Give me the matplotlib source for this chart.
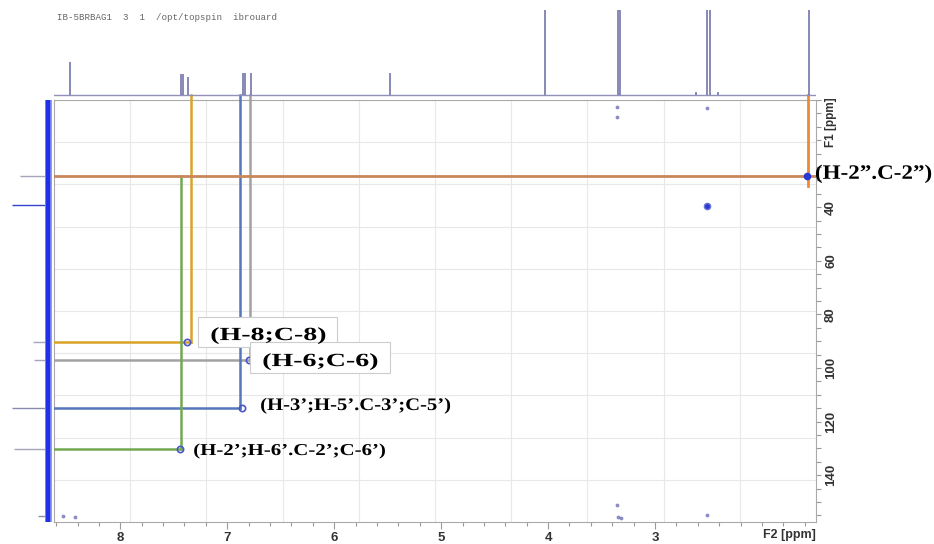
import matplotlib
matplotlib.use("Agg")
import matplotlib.pyplot as plt
from matplotlib.ticker import MultipleLocator, FixedLocator
from matplotlib.patches import Rectangle
from matplotlib.patheffects import AbstractPathEffect
from matplotlib.transforms import Affine2D

# 1H projection (F2) - peak positions (ppm) and heights
h_ppm = [8.47, 7.43, 7.41, 7.37, 6.85, 6.83, 6.78, 5.48, 4.03, 3.35, 3.33, 2.62, 2.51, 2.49, 2.41, 1.56]
h_int = [33, 21, 21, 18, 22, 22, 22, 22, 200, 200, 200, 3, 200, 200, 3, 200]

# 13C projection (F1) - peak positions (ppm) and heights
c_ppm = [28.4, 39.3, 90.4, 97.1, 115.0, 130.3, 155.3]
c_int = [28, 36, 15, 14, 36, 34, 10]
c_col = ['#a4a4bc', '#3344cc', '#a4a4bc', '#a4a4bc', '#8a8ab0', '#a4a4bc', '#8a8ab0']

# assigned cross peaks
labels = ["(H-8;C-8)", "(H-6;C-6)", "(H-3\u2019;H-5\u2019.C-3\u2019;C-5\u2019)",
          "(H-2\u2019;H-6\u2019.C-2\u2019;C-6\u2019)", "(H-2\u201d.C-2\u201d)"]
line_h = [7.34, 6.79, 6.88, 7.435, 1.57]
peak_h = [7.38, 6.80, 6.86, 7.44, 1.58]
peak_c = [90.4, 97.1, 115.0, 130.3, 28.4]
colors = ['#d8a428', '#a2a2a2', '#5577bb', '#72a850', '#ee8a33']

# other (unassigned) contour spots
art_h = [3.36, 3.36, 2.51, 8.54, 8.42, 3.36, 3.35, 3.32, 2.51]
art_c = [2.5, 6.3, 3.0, 155.3, 155.7, 151.0, 155.5, 156.0, 155.0]


class Stretch(AbstractPathEffect):
    # widen glyphs horizontally around the text origin
    def __init__(self, sx):
        super().__init__()
        self.sx = sx

    def draw_path(self, renderer, gc, tpath, affine, rgbFace=None):
        x0, y0 = affine.transform((0, 0))
        t = affine + Affine2D().translate(-x0, -y0).scale(self.sx, 1).translate(x0, y0)
        renderer.draw_path(gc, tpath, t, rgbFace)


W, H = 934, 544
fig = plt.figure(figsize=(W / 100, H / 100), dpi=100)
xlim = (8.62, 1.495)
ylim = (157.5, 0)

# main 2D area
ax = fig.add_axes([54 / W, 22 / H, 762 / W, 422 / H])
ax.set_xlim(*xlim)
ax.set_ylim(*ylim)
for s in ax.spines.values():
    s.set_color('#aaaaaa')
    s.set_linewidth(0.8)
for i in range(1, 10):
    ax.plot([i / 10, i / 10], [0, 1], transform=ax.transAxes, color='#e8e8e8', lw=0.8, zorder=0)
    ax.plot([0, 1], [i / 10, i / 10], transform=ax.transAxes, color='#e8e8e8', lw=0.8, zorder=0)

ax.xaxis.set_major_locator(FixedLocator([3, 4, 5, 6, 7, 8]))
ax.xaxis.set_minor_locator(MultipleLocator(0.2))
ax.yaxis.tick_right()
ax.yaxis.set_major_locator(FixedLocator([40, 60, 80, 100, 120, 140]))
ax.yaxis.set_minor_locator(MultipleLocator(5))
ax.tick_params(which='both', direction='out', color='#999999', width=0.8)
ax.tick_params(axis='x', which='major', length=5, pad=2, labelsize=9.5, labelcolor='#333333')
ax.tick_params(axis='x', which='minor', length=3)
ax.tick_params(axis='y', which='both', length=3.5, pad=3, labelsize=9.5, labelcolor='#333333')
for t in ax.get_xticklabels() + ax.get_yticklabels():
    t.set_fontweight('bold')
    t.set_family('Liberation Sans')
for t in ax.get_yticklabels():
    t.set_rotation(90)
    t.set_va('center')

fig.text(816 / W, 1 - 535 / H, "F2 [ppm]", ha='right', va='center', fontsize=9,
         fontweight='bold', family='Liberation Sans', color='#333333')
fig.text(831 / W, 1 - 122 / H, "F1 [ppm]", ha='center', va='center', fontsize=8.5,
         fontweight='bold', family='Liberation Sans', color='#333333', rotation=90)
fig.text(57 / W, 1 - 17.5 / H, "IB-5BRBAG1  3  1  /opt/topspin  ibrouard",
         ha='left', va='center', fontsize=6.6, family='Liberation Mono', color='#666666')

# top 1H trace
axt = fig.add_axes([54 / W, 444 / H, 762 / W, 90 / H])
axt.set_xlim(*xlim)
axt.set_ylim(-5, 85)
axt.axis('off')
axt.axhline(0, color='#9090b8', lw=1.0)
axt.vlines(h_ppm, 0, h_int, color='#7474aa', lw=1.2)

# left 13C trace
axl = fig.add_axes([0, 22 / H, 54 / W, 422 / H])
axl.set_ylim(*ylim)
axl.set_xlim(48, -6)
axl.axis('off')
axl.hlines(c_ppm, 0, c_int, colors=c_col, lw=1.0)
axl.axvline(0, color='#8d96f0', lw=5.0)
axl.axvline(0, color='#1f30e6', lw=3.2)

# crosshair lines
top = -1.9
for i in range(4):
    ax.plot([xlim[0], line_h[i]], [peak_c[i]] * 2, color=colors[i], lw=1.8, zorder=3)
for i in [0, 1, 2]:
    ax.plot([line_h[i]] * 2, [top, peak_c[i]], color=colors[i], lw=1.8, zorder=3, clip_on=False)
ax.plot([line_h[3]] * 2, [peak_c[4], peak_c[3]], color=colors[3], lw=1.8, zorder=3)
ax.plot([xlim[0], xlim[1]], [peak_c[4]] * 2, color='#c8875a', lw=2.0, zorder=3)
ax.plot([line_h[4]] * 2, [top, peak_c[4] + 3.8], color=colors[4], lw=2.0, zorder=3, clip_on=False)

# cross peak markers
ax.plot(peak_h[:4], peak_c[:4], 'o', ms=4.5, mfc='none', mec='#4a55c8', mew=1.2, zorder=4)
ax.plot(peak_h[4], peak_c[4], 'o', ms=4.5, mfc='#2a3ad0', mec='#2a3ad0', zorder=4)
ax.plot([2.51], [39.5], 'o', ms=4.5, mfc='#2a3ad0', mec='#6a74d8', mew=1.0, zorder=4)
ax.plot(art_h, art_c, 'o', ms=1.8, color='#7070b8', alpha=0.7, zorder=4)

# label boxes
ax.add_patch(Rectangle((7.271, 81.0), 5.972 - 7.271, 11.2, facecolor='white',
                       edgecolor='#cccccc', lw=0.8, zorder=5))
ax.add_patch(Rectangle((6.785, 90.4), 5.477 - 6.785, 11.6, facecolor='white',
                       edgecolor='#cccccc', lw=0.8, zorder=6))

lab_x = [7.159, 6.673, 6.692, 7.318, 1.505]
lab_y = [89.6, 99.3, 115.7, 132.5, 29.4]
lab_size = [13.4, 13.4, 12.7, 12.0, 14.7]
lab_sx = [1.5, 1.5, 1.17, 1.25, 1.13]
for i in range(5):
    ax.text(lab_x[i], lab_y[i], labels[i], ha='left', va='baseline', fontsize=lab_size[i],
            family='Liberation Serif', fontweight='bold', color='black',
            zorder=7, clip_on=False, path_effects=[Stretch(lab_sx[i])])

fig.savefig("out.png", dpi=100)
